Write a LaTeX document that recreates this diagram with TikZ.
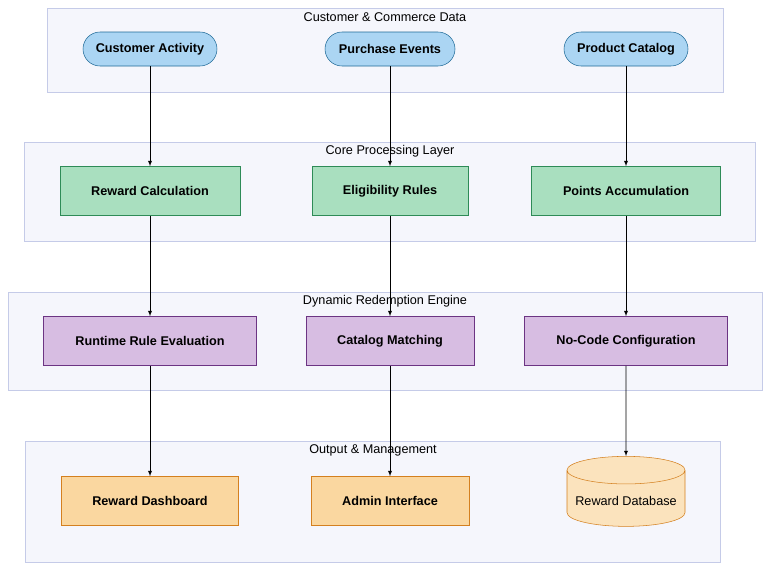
\documentclass[tikz,border=0pt]{standalone}
\usepackage{fontspec}
\setmainfont{Liberation Sans}
\usetikzlibrary{arrows}
\usetikzlibrary{shapes.geometric}
\definecolor{groupfill}{HTML}{F5F6FC}
\definecolor{groupline}{HTML}{C5CBE8}
\definecolor{bluefill}{HTML}{ABD5F3}
\definecolor{blueline}{HTML}{1F6A98}
\definecolor{greenfill}{HTML}{A9DFBF}
\definecolor{greenline}{HTML}{2E8B57}
\definecolor{purplefill}{HTML}{D7BDE2}
\definecolor{purpleline}{HTML}{6C3483}
\definecolor{orangefill}{HTML}{FAD7A0}
\definecolor{orangeline}{HTML}{D4801F}
\tikzset{
  group/.style={draw=groupline, fill=groupfill},
  grouptitle/.style={font=\fontsize{9.5}{11}\selectfont},
  box/.style={draw, minimum height=36.75pt, font=\bfseries\fontsize{9.5}{11}\selectfont},
  source/.style={box, rounded corners=12.75pt, minimum height=25.5pt, fill=bluefill, draw=blueline},
  core/.style={box, fill=greenfill, draw=greenline},
  engine/.style={box, fill=purplefill, draw=purpleline},
  output/.style={box, fill=orangefill, draw=orangeline},
  flow/.style={-latex, thin}
}
\begin{document}
\begin{tikzpicture}[x=0.75pt, y=-0.75pt]
            % Frame
            \useasboundingbox (0,0) rectangle (770,571);
            % Groups
            \draw[group] (47,8) rectangle (723,92);
            \node[grouptitle] (gin) at (385,17) {Customer \& Commerce Data};
            \draw[group] (24,142) rectangle (755,241);
            \node[grouptitle] (gcore) at (390,151) {Core Processing Layer};
            \draw[group] (8,292) rectangle (762,390);
            \node[grouptitle] (geng) at (385,301) {Dynamic Redemption Engine};
            \draw[group] (25,441) rectangle (720,562);
            \node[grouptitle] (gout) at (373,450) {Output \& Management};
            % Sources
            \node[source, minimum width=100.5pt] (activity) at (150,49) {Customer Activity};
            \node[source, minimum width=97.5pt]  (purchase) at (390,49) {Purchase Events};
            \node[source, minimum width=93pt]    (catalog)  at (626,49) {Product Catalog};
            % Core
            \node[core, minimum width=135pt]   (calc)   at (150,191) {Reward Calculation};
            \node[core, minimum width=117pt]   (rules)  at (390,191) {Eligibility Rules};
            \node[core, minimum width=141.75pt] (points) at (626,191) {Points Accumulation};
            % Engine
            \node[engine, minimum width=159.75pt] (runtime)  at (150,341) {Runtime Rule Evaluation};
            \node[engine, minimum width=126pt]    (matching) at (390,341) {Catalog Matching};
            \node[engine, minimum width=152.25pt] (nocode)   at (626,341) {No-Code Configuration};
            % Output
            \node[output, minimum width=132.75pt] (dash)  at (150,501) {Reward Dashboard};
            \node[output, minimum width=118.5pt]  (admin) at (390,501) {Admin Interface};
            \node[cylinder, shape border rotate=90, aspect=0.25, draw=orangeline, fill=orangefill!70,
                  minimum width=88.5pt, minimum height=52.5pt, font=\fontsize{9.5}{11}\selectfont]
                  (db) at (626,501) {Reward Database};
            % Connectors
            \draw[flow] (activity) -- (calc);
            \draw[flow] (purchase) -- (rules);
            \draw[flow] (catalog) -- (points);
            \draw[flow] (calc) -- (runtime);
            \draw[flow] (rules) -- (matching);
            \draw[flow] (points) -- (nocode);
            \draw[flow] (runtime) -- (dash);
            \draw[flow] (matching) -- (admin);
            \draw[flow] (nocode) -- (db);
\end{tikzpicture}
\end{document}
